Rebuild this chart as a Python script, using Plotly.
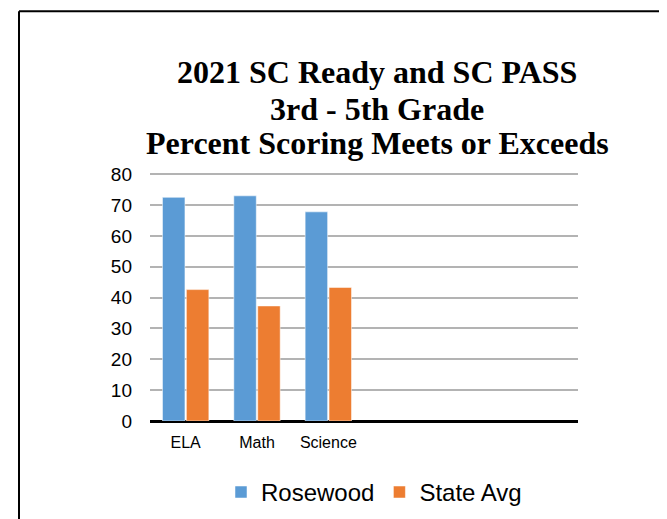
import plotly.graph_objects as go

categories = ["ELA", "Math", "Science", " ", "  ", "   "]
rosewood = [72.5, 73.0, 67.8, None, None, None]
state_avg = [42.6, 37.3, 43.3, None, None, None]
title_lines = ["2021 SC Ready and SC PASS", "3rd - 5th Grade", "Percent Scoring Meets or Exceeds"]
y_ticks = [0, 10, 20, 30, 40, 50, 60, 70, 80]

# page body has an 8px default margin; design in screen pixels and offset
OFF = 8
W, H = 667, 519
L = 150 - OFF
R = W - (578 - OFF)
T = 173 - OFF
B = H - (423 - OFF)
PW, PH = W - L - R, H - T - B

def px_x(x):
    return (x - OFF - L) / PW

def px_y(y):
    return (H - B - (y - OFF)) / PH

fig = go.Figure()
fig.add_trace(go.Bar(x=categories, y=rosewood, name="Rosewood",
                     marker=dict(color="#5B9BD5", line=dict(color="#ffffff", width=0.5))))
fig.add_trace(go.Bar(x=categories, y=state_avg, name="State Avg",
                     marker=dict(color="#ED7D31", line=dict(color="#ffffff", width=0.5))))

annotations = []
for txt, yc in zip(title_lines, [71, 108, 143]):
    annotations.append(dict(text="<b>" + txt + "</b>", xref="paper", yref="paper",
                            x=px_x(377), y=px_y(yc), xanchor="center", yanchor="middle",
                            showarrow=False,
                            font=dict(family="Liberation Serif, Times New Roman, serif", size=32, color="#000")))

border = dict(color="#000", width=2)
fig.update_layout(
    width=W, height=H,
    margin=dict(l=L, r=R, t=T, b=B, pad=0),
    paper_bgcolor="white", plot_bgcolor="white",
    barmode="group", bargap=0.33, bargroupgap=0.06,
    showlegend=True,
    legend=dict(orientation="h", x=px_x(374), xanchor="center", y=px_y(495), yanchor="middle",
                font=dict(family="Liberation Sans, Arial, sans-serif", size=24, color="#000"),
                itemwidth=30, tracegroupgap=0),
    annotations=annotations,
    font=dict(family="Liberation Sans, Arial, sans-serif", color="#000"),
    xaxis=dict(type="category", categoryorder="array", categoryarray=categories,
               range=[-0.5, len(categories) - 0.5], showgrid=False, zeroline=False,
               showline=False, ticks="", tickfont=dict(size=16, color="#000"),
               ticklabelstandoff=10),
    yaxis=dict(range=[0, 80.4], tickvals=y_ticks, showgrid=True, gridcolor="#b3b3b3", gridwidth=2,
               zeroline=True, zerolinecolor="#000", zerolinewidth=3, showline=False, ticks="",
               tickfont=dict(size=19, color="#000"), ticklabelstandoff=17),
    shapes=[
        dict(type="line", xref="paper", yref="paper",
             x0=px_x(19), x1=px_x(675), y0=px_y(10), y1=px_y(10), line=border, layer="above"),
        dict(type="line", xref="paper", yref="paper",
             x0=px_x(19), x1=px_x(19), y0=px_y(10), y1=px_y(527), line=border, layer="above"),
    ],
)

fig.write_html("out.html", config={"displayModeBar": False})
